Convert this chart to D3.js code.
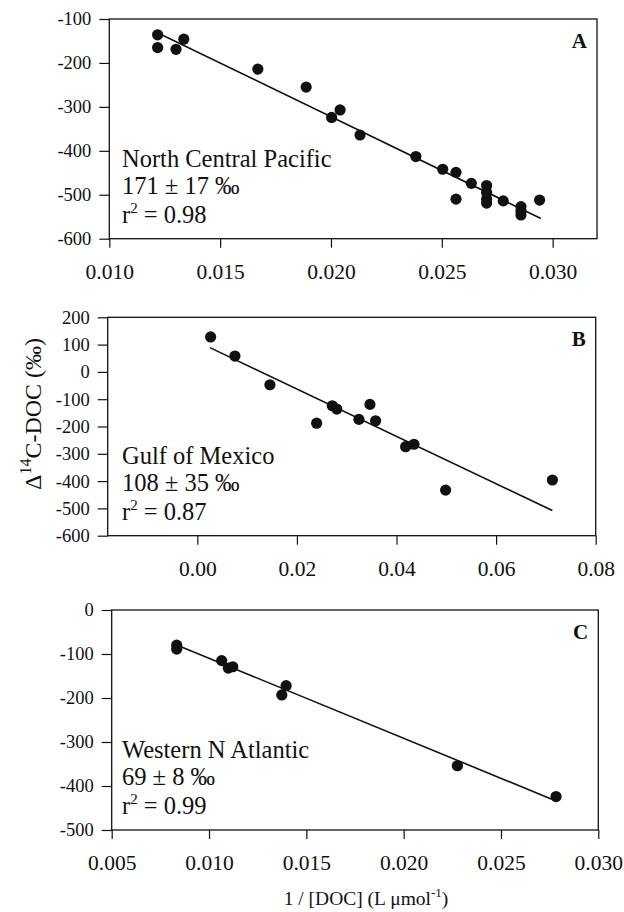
<!DOCTYPE html>
<html>
<head>
<meta charset="utf-8">
<script src="https://cdnjs.cloudflare.com/ajax/libs/d3/7.8.5/d3.min.js"></script>
<style>
  body { margin: 0; background: #fff; }
  text { font-family: "Liberation Serif", "Times New Roman", serif; fill: #111; }
</style>
</head>
<body>
<div id="chart"></div>
<script>

// Panel A - North Central Pacific
var pacificX = [0.01218, 0.01218, 0.01301, 0.01336, 0.01670, 0.01888, 0.02003, 0.02041, 0.02131, 0.02383,
                0.02504, 0.02564, 0.02564, 0.02633, 0.02702, 0.02702, 0.02702, 0.02702, 0.02777, 0.02857,
                0.02857, 0.02857, 0.02941];
var pacificY = [-136, -165, -169, -146, -214, -255, -324, -307, -364, -413,
                -442, -449, -510, -474, -479, -495, -510, -519, -514, -527,
                -537, -546, -512];
var pacificFit = [[0.01229, -134], [0.02947, -554]];
var pacificXTicks = [0.010, 0.015, 0.020, 0.025, 0.030];
var pacificYTicks = [-100, -200, -300, -400, -500, -600];
var pacificText = ["North Central Pacific", "171 ± 17 ‰", "0.98"];

// Panel B - Gulf of Mexico
var gulfX = [0.00267, 0.00755, 0.01458, 0.02396, 0.0271, 0.0280, 0.03245, 0.03466, 0.0358, 0.04183,
             0.0435, 0.04986, 0.0713];
var gulfY = [128, 58, -47, -188, -124, -136, -174, -119, -179, -274,
             -265, -433, -396];
var gulfFit = [[0.00253, 89], [0.0713, -508]];
var gulfXTicks = [0.00, 0.02, 0.04, 0.06, 0.08];
var gulfYTicks = [200, 100, 0, -100, -200, -300, -400, -500, -600];
var gulfText = ["Gulf of Mexico", "108 ± 35 ‰", "0.87"];

// Panel C - Western N Atlantic
var atlanticX = [0.00834, 0.00834, 0.01065, 0.01099, 0.01122, 0.01374, 0.01396, 0.02276, 0.02783];
var atlanticY = [-80, -89, -115, -132, -129, -193, -172, -354, -424];
var atlanticFit = [[0.00837, -80], [0.02761, -430]];
var atlanticXTicks = [0.005, 0.010, 0.015, 0.020, 0.025, 0.030];
var atlanticYTicks = [0, -100, -200, -300, -400, -500];
var atlanticText = ["Western N Atlantic", "69 ± 8 ‰", "0.99"];

// Layout
var attrs = {
  svgWidth: 624,
  svgHeight: 912,
  labelX: 122,
  dotRadius: 5.6,
  xTickFont: 21.5,
  yTickFont: 18.5,
  noteFont: 24.5,
  letterFont: 21
};

var panels = [
  { letter: "A", x: pacificX, y: pacificY, fit: pacificFit, xTicks: pacificXTicks, yTicks: pacificYTicks,
    text: pacificText, xDomain: [0.010, 0.032], yDomain: [-600, -100], fmt: ".3f",
    left: 109.3, right: 597, top: 19, bottom: 238.7 },
  { letter: "B", x: gulfX, y: gulfY, fit: gulfFit, xTicks: gulfXTicks, yTicks: gulfYTicks,
    text: gulfText, xDomain: [-0.018, 0.08], yDomain: [-600, 200], fmt: ".2f",
    left: 107.7, right: 595.7, top: 317.3, bottom: 535.7 },
  { letter: "C", x: atlanticX, y: atlanticY, fit: atlanticFit, xTicks: atlanticXTicks, yTicks: atlanticYTicks,
    text: atlanticText, xDomain: [0.005, 0.030], yDomain: [-500, 0], fmt: ".3f",
    left: 111.7, right: 598.3, top: 610, bottom: 830 }
];

//Add svg
var svg = d3.select("#chart").append("svg")
  .attr("width", attrs.svgWidth)
  .attr("height", attrs.svgHeight);

panels.forEach(function (p) {
  var w = p.right - p.left;
  var h = p.bottom - p.top;

  //Scales
  var x = d3.scaleLinear().domain(p.xDomain).range([0, w]);
  var y = d3.scaleLinear().domain(p.yDomain).range([h, 0]);

  var g = svg.append("g")
    .attr("transform", "translate(" + p.left + "," + p.top + ")");

  //y axis
  var yAxis = g.append("g")
    .call(d3.axisLeft(y).tickValues(p.yTicks).tickSize(10).tickSizeOuter(0).tickPadding(8)
      .tickFormat(function (d) { return String(d); }));
  yAxis.select(".domain").remove();
  yAxis.selectAll("line").attr("stroke", "#111").attr("stroke-width", 1.2);
  yAxis.selectAll("text")
    .attr("font-size", attrs.yTickFont)
    .attr("font-family", "Liberation Serif")
    .attr("fill", "#111");

  //x axis
  var xAxis = g.append("g")
    .attr("transform", "translate(0," + h + ")")
    .call(d3.axisBottom(x).tickValues(p.xTicks).tickSize(9).tickSizeOuter(0)
      .tickFormat(d3.format(p.fmt)));
  xAxis.select(".domain").remove();
  xAxis.selectAll("line").attr("stroke", "#111").attr("stroke-width", 1.2);
  xAxis.selectAll("text")
    .attr("y", 40)
    .attr("dy", 0)
    .attr("font-size", attrs.xTickFont)
    .attr("font-family", "Liberation Serif")
    .attr("fill", "#111")
    .text(function (d) { return d3.format(p.fmt)(d).replace("\u2212", "-"); });

  //frame
  g.append("rect")
    .attr("width", w)
    .attr("height", h)
    .attr("fill", "none")
    .attr("stroke", "#111")
    .attr("stroke-width", 1.3);

  //fit line
  g.append("path")
    .datum(p.fit)
    .attr("fill", "none")
    .attr("stroke", "#111")
    .attr("stroke-width", 1.6)
    .attr("d", d3.line().x(function (d) { return x(d[0]); }).y(function (d) { return y(d[1]); }));

  //dots
  g.selectAll("circle")
    .data(d3.zip(p.x, p.y))
    .enter().append("circle")
    .attr("cx", function (d) { return x(d[0]); })
    .attr("cy", function (d) { return y(d[1]); })
    .attr("r", attrs.dotRadius)
    .attr("fill", "#111");

  //panel letter
  g.append("text")
    .attr("x", w - 10)
    .attr("y", 29)
    .attr("text-anchor", "end")
    .attr("font-size", attrs.letterFont)
    .attr("font-weight", "bold")
    .text(p.letter);

  //notes
  var nx = attrs.labelX - p.left;
  g.append("text").attr("x", nx).attr("y", h - 72).attr("font-size", attrs.noteFont).text(p.text[0]);
  g.append("text").attr("x", nx).attr("y", h - 45).attr("font-size", attrs.noteFont).text(p.text[1]);
  var r2 = g.append("text").attr("x", nx).attr("y", h - 16).attr("font-size", attrs.noteFont);
  r2.append("tspan").text("r");
  r2.append("tspan").attr("dy", -10).attr("font-size", 15).text("2");
  r2.append("tspan").attr("dy", 10).text(" = " + p.text[2]);
});

//y axis title
var yTitle = svg.append("text")
  .attr("transform", "translate(41,414) rotate(-90)")
  .attr("text-anchor", "middle")
  .attr("font-size", 24);
yTitle.append("tspan").text("\u0394");
yTitle.append("tspan").attr("dy", -10).attr("font-size", 16).text("14");
yTitle.append("tspan").attr("dy", 10).text("C-DOC (\u2030)");

//x axis title
var xTitle = svg.append("text")
  .attr("x", 366)
  .attr("y", 905)
  .attr("text-anchor", "middle")
  .attr("font-size", 19.5);
xTitle.append("tspan").text("1 / [DOC] (L \u03bcmol");
xTitle.append("tspan").attr("dy", -8).attr("font-size", 13).text("-1");
xTitle.append("tspan").attr("dy", 8).text(")");

</script>
</body>
</html>
